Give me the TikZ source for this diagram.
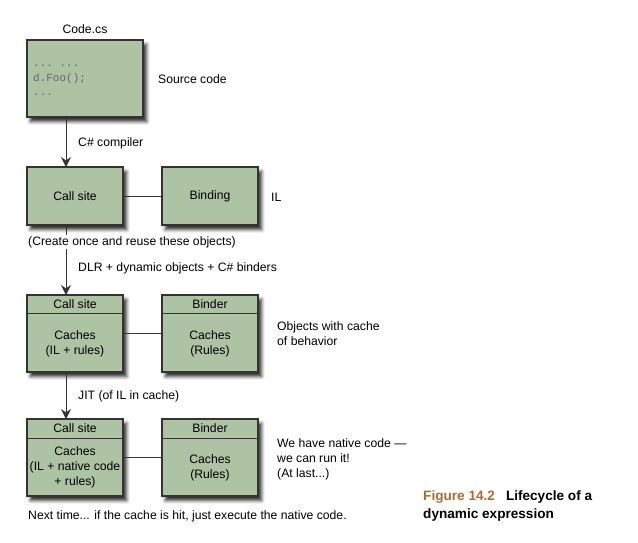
\documentclass[tikz,border=0pt]{standalone}
\usepackage{fontspec}
\setmainfont{Liberation Sans}
\setmonofont{Liberation Mono}
\usetikzlibrary{shadows.blur,arrows.meta}
\definecolor{boxgreen}{HTML}{ADC3A3}
\definecolor{capbrown}{HTML}{B06A2E}
\begin{document}
\begin{tikzpicture}[x=1pt,y=-1pt,
  every node/.style={font=\fontsize{12.2}{15}\selectfont},
  box/.style={draw=black!80, line width=1.1pt, fill=boxgreen,
    blur shadow={shadow xshift=3.5pt, shadow yshift=-4.5pt, shadow blur steps=6, shadow blur radius=3.5pt, shadow opacity=85},
    minimum width=96pt, inner sep=0, align=center},
  lbl/.style={anchor=west, inner sep=0, align=left},
  codetxt/.style={anchor=west, inner sep=0, font=\fontsize{11}{13}\ttfamily, text=black!60},
  conn/.style={draw=black!80, line width=0.6pt},
  arr/.style={draw=black!80, line width=0.8pt, -{Stealth[length=10pt,width=10pt,inset=3.5pt]}}
]
\useasboundingbox (0,0) rectangle (638,542);
% level 1
\node[inner sep=0] (codecs) at (85,29) {Code.cs};
\node[box, minimum width=116pt, minimum height=77pt] (src) at (85,78.5) {};
\node[codetxt] (code1) at (33,66) {... ...};
\node[codetxt] (code2) at (33,79) {d.Foo();};
\node[codetxt] (code3) at (33,95) {...};
\node[lbl] (srclbl) at (158,79) {Source code};
% level 2
\node[box, minimum height=58pt] (cs1) at (75,196) {Call site};
\node[box, minimum height=58pt] (bind1) at (210,196) {Binding};
\node[lbl] (il) at (271,197) {IL};
\draw[conn] (cs1) -- (bind1);
\coordinate (a1s) at (66,117);
\coordinate (a1e) at (66,167);
\draw[arr] (a1s) -- (a1e);
\node[lbl] (comp) at (78,143) {C\# compiler};
% level 3
\node[box, minimum height=77pt] (cs2) at (75,333.5) {};
\node[box, minimum height=77pt] (bind2) at (210,333.5) {};
\draw[black!80, line width=1pt] (cs2.west |- 0,313) -- (cs2.east |- 0,313);
\draw[black!80, line width=1pt] (bind2.west |- 0,313) -- (bind2.east |- 0,313);
\node[inner sep=0] (cs2h) at (75,304) {Call site};
\node[inner sep=0] (bind2h) at (210,304) {Binder};
\node[inner sep=0, align=center] (cs2b) at (75,344) {Caches\\(IL + rules)};
\node[inner sep=0, align=center] (bind2b) at (210,344) {Caches\\(Rules)};
\draw[conn] (cs2) -- (bind2);
\node[lbl] (objc) at (277,334) {Objects with cache\\of behavior};
\coordinate (a2s) at (66,225);
\coordinate (a2e) at (66,295);
\draw[arr] (a2s) -- (a2e);
\node[lbl, fill=white, inner ysep=1pt] (create) at (28,242) {(Create once and reuse these objects)};
\node[lbl] (dlr) at (78,268) {DLR + dynamic objects + C\# binders};
% level 4
\node[box, minimum height=77pt] (cs3) at (75,457.5) {};
\node[box, minimum height=77pt] (bind3) at (210,457.5) {};
\draw[black!80, line width=1pt] (cs3.west |- 0,438) -- (cs3.east |- 0,438);
\draw[black!80, line width=1pt] (bind3.west |- 0,438) -- (bind3.east |- 0,438);
\node[inner sep=0] (cs3h) at (75,428) {Call site};
\node[inner sep=0] (bind3h) at (210,428) {Binder};
\node[inner sep=0, align=center] (cs3b) at (75,467.5) {Caches\\(IL + native code\\+ rules)};
\node[inner sep=0, align=center] (bind3b) at (210,467.5) {Caches\\(Rules)};
\draw[conn] (cs3) -- (bind3);
\node[lbl] (native) at (277,459) {We have native code —\\we can run it!\\(At last...)};
\coordinate (a3s) at (66,372);
\coordinate (a3e) at (66,419);
\draw[arr] (a3s) -- (a3e);
\node[lbl] (jit) at (78,396) {JIT (of IL in cache)};
\node[lbl] (next) at (28,516) {Next time... if the cache is hit, just execute the native code.};
% caption
\node[lbl, font=\bfseries\fontsize{13.6}{18}\selectfont] (cap) at (423,506)
  {\textcolor{capbrown}{Figure 14.2}\hspace{11pt}Lifecycle of a\\dynamic expression};
\end{tikzpicture}
\end{document}
